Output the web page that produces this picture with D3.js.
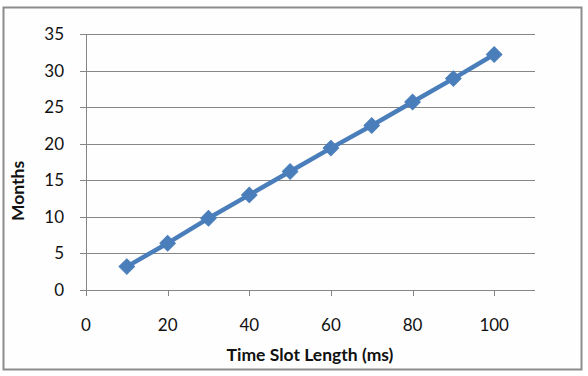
<!DOCTYPE html>
<html>
<head>
	<script src="https://cdn.jsdelivr.net/npm/d3@7"></script>
	<style>
		html, body {
			padding: 0;
			margin: 0;
			background: #ffffff;
		}
		text { font-family: Lato, "Open Sans", sans-serif; fill: #111; }
	</style>
</head>
<body>
	<script>
		var width = 588, height = 376;

		// data
		var slotLength = [10, 20, 30, 40, 50, 60, 70, 80, 90, 100];
		var months = [3.2, 6.4, 9.8, 13.0, 16.2, 19.4, 22.5, 25.7, 28.9, 32.2];
		var xTicks = [0, 20, 40, 60, 80, 100];
		var yTicks = [0, 5, 10, 15, 20, 25, 30, 35];

		var svg = d3.select('body').append('svg')
			.attr('width', width)
			.attr('height', height);

		// chart frame
		svg.append('rect')
			.attr('x', 3.5).attr('y', 7.5)
			.attr('width', 578).attr('height', 362)
			.attr('fill', '#fefefe')
			.attr('stroke', '#8c8c8c')
			.attr('stroke-width', 2);

		var x = d3.scaleLinear().domain([0, 110]).range([86, 535]);
		var y = d3.scaleLinear().domain([0, 35]).range([290, 34]);

		// horizontal gridlines
		svg.append('g')
			.selectAll('line')
			.data(yTicks)
			.enter().append('line')
			.attr('x1', x(0) - 6).attr('x2', x(110))
			.attr('y1', function(d) { return Math.round(y(d)) + 0.5; })
			.attr('y2', function(d) { return Math.round(y(d)) + 0.5; })
			.attr('stroke', '#868686')
			.attr('stroke-width', 1);

		// y axis line
		svg.append('line')
			.attr('x1', x(0) + 0.5).attr('x2', x(0) + 0.5)
			.attr('y1', y(35)).attr('y2', y(0) + 6)
			.attr('stroke', '#868686');

		// x ticks
		svg.append('g')
			.selectAll('line')
			.data(xTicks)
			.enter().append('line')
			.attr('x1', function(d) { return Math.round(x(d)) + 0.5; })
			.attr('x2', function(d) { return Math.round(x(d)) + 0.5; })
			.attr('y1', y(0)).attr('y2', y(0) + 6)
			.attr('stroke', '#868686');

		// y tick labels
		svg.append('g')
			.selectAll('text')
			.data(yTicks)
			.enter().append('text')
			.attr('x', 64)
			.attr('y', function(d) { return y(d); })
			.attr('dy', '0.35em')
			.attr('text-anchor', 'end')
			.style('font-size', '17px')
			.text(function(d) { return d; });

		// x tick labels
		svg.append('g')
			.selectAll('text')
			.data(xTicks)
			.enter().append('text')
			.attr('x', function(d) { return x(d); })
			.attr('y', 325)
			.attr('dy', '0.35em')
			.attr('text-anchor', 'middle')
			.style('font-size', '17px')
			.text(function(d) { return d; });

		// axis titles
		svg.append('text')
			.attr('x', 310).attr('y', 361)
			.attr('text-anchor', 'middle')
			.style('font-size', '17.5px')
			.style('font-weight', 'bold')
			.text('Time Slot Length (ms)');

		svg.append('text')
			.attr('transform', 'translate(24,191) rotate(-90)')
			.attr('text-anchor', 'middle')
			.style('font-size', '17.5px')
			.style('font-weight', 'bold')
			.text('Months');

		// series line
		var line = d3.line()
			.x(function(d, i) { return x(slotLength[i]); })
			.y(function(d) { return y(d); });

		svg.append('path')
			.datum(months)
			.attr('d', line)
			.attr('fill', 'none')
			.attr('stroke', '#4a7ebb')
			.attr('stroke-width', 4.5)
			.attr('stroke-linejoin', 'round');

		// diamond markers
		svg.append('g')
			.selectAll('path')
			.data(months)
			.enter().append('path')
			.attr('d', d3.symbol().type(d3.symbolSquare).size(120))
			.attr('transform', function(d, i) { return 'translate(' + x(slotLength[i]) + ',' + y(d) + ') rotate(45)'; })
			.attr('fill', '#4a7ebb')
			.attr('stroke', '#4a7ebb')
			.attr('stroke-width', 1);
	</script>
</body>
</html>
